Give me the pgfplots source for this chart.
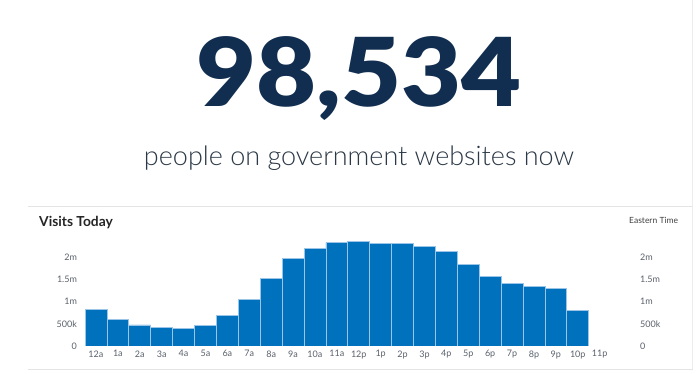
\documentclass[border=0pt]{standalone}
\usepackage{pgfplots}
\pgfplotsset{compat=1.18}
\usepackage{fontspec}
\setmainfont{Lato}
\newfontfamily\bignum{Lato Black}
\newfontfamily\lightfont{Lato Light}
\definecolor{barblue}{HTML}{0071BC}
\definecolor{barline}{HTML}{9CC4E6}
\definecolor{navy}{HTML}{112E51}
\definecolor{subtext}{HTML}{2B3846}
\definecolor{ticktext}{HTML}{5B616B}
\definecolor{rule}{HTML}{E4E4E4}
\pgfplotstableread{
x y
0 825000
1 600000
2 472000
3 412000
4 397000
5 465000
6 681000
7 1050000
8 1520000
9 1960000
10 2200000
11 2330000
12 2345000
13 2310000
14 2300000
15 2230000
16 2120000
17 1840000
18 1570000
19 1410000
20 1330000
21 1300000
22 800000
}\visits
\begin{document}
\begin{tikzpicture}[x=1pt,y=1pt]
\fill[white] (0,0) rectangle (696,374);
\path[use as bounding box] (0,0) rectangle (696,374);
\draw[rule, line width=0.8pt] (28,168) -- (692.5,168);
\draw[rule, line width=0.8pt] (28,5) -- (692.5,5);
\draw[rule!70, line width=0.6pt] (692.5,374) -- (692.5,5);
\node[anchor=base, inner sep=0pt, xscale=1.09, font=\fontsize{95}{95}\bignum, text=navy] at (359,267) {98,534};
\node[anchor=base, inner sep=0pt, font=\fontsize{27}{27}\lightfont, text=subtext] at (359,208) {people on government websites now};
\node[anchor=base west, inner sep=0pt, font=\fontsize{13.8}{13.8}\selectfont\bfseries, text=black!85] at (39,147) {Visits Today};
\node[anchor=base west, inner sep=0pt, font=\fontsize{8.5}{8.5}\selectfont, text=black!75] at (629,150) {Eastern Time};
\begin{axis}[
  at={(85pt,28pt)}, anchor=south west, scale only axis,
  width=525.6pt, height=106.8pt,
  xmin=-0.5, xmax=23.5, ymin=0, ymax=2400000,
  axis line style={draw=none}, major tick length=0pt,
  xtick={0,...,23},
  xticklabels={12a,1a,2a,3a,4a,5a,6a,7a,8a,9a,10a,11a,12p,1p,2p,3p,4p,5p,6p,7p,8p,9p,10p,11p},
  ytick={0,500000,1000000,1500000,2000000},
  yticklabels={0,500k,1m,1.5m,2m},
  scaled y ticks=false,
  tick label style={font=\fontsize{9}{9}\selectfont, text=ticktext},
  yticklabel style={xshift=-4.5pt},
  xticklabel style={yshift=-1pt},
]
\addplot[ybar, bar width=21.9pt, fill=barblue, draw=barline, line width=0.7pt] table[x=x,y=y] {\visits};
\end{axis}
\begin{axis}[
  at={(85pt,28pt)}, anchor=south west, scale only axis,
  width=525.6pt, height=106.8pt,
  xmin=-0.5, xmax=23.5, ymin=0, ymax=2400000,
  axis y line*=right, axis x line=none,
  axis line style={draw=none}, major tick length=0pt,
  ytick={0,500000,1000000,1500000,2000000},
  yticklabels={0,500k,1m,1.5m,2m},
  scaled y ticks=false,
  tick label style={font=\fontsize{9}{9}\selectfont, text=ticktext},
  yticklabel style={anchor=west, xshift=26pt},
]
\addplot[draw=none] coordinates {(0,0)};
\end{axis}
\end{tikzpicture}
\end{document}
